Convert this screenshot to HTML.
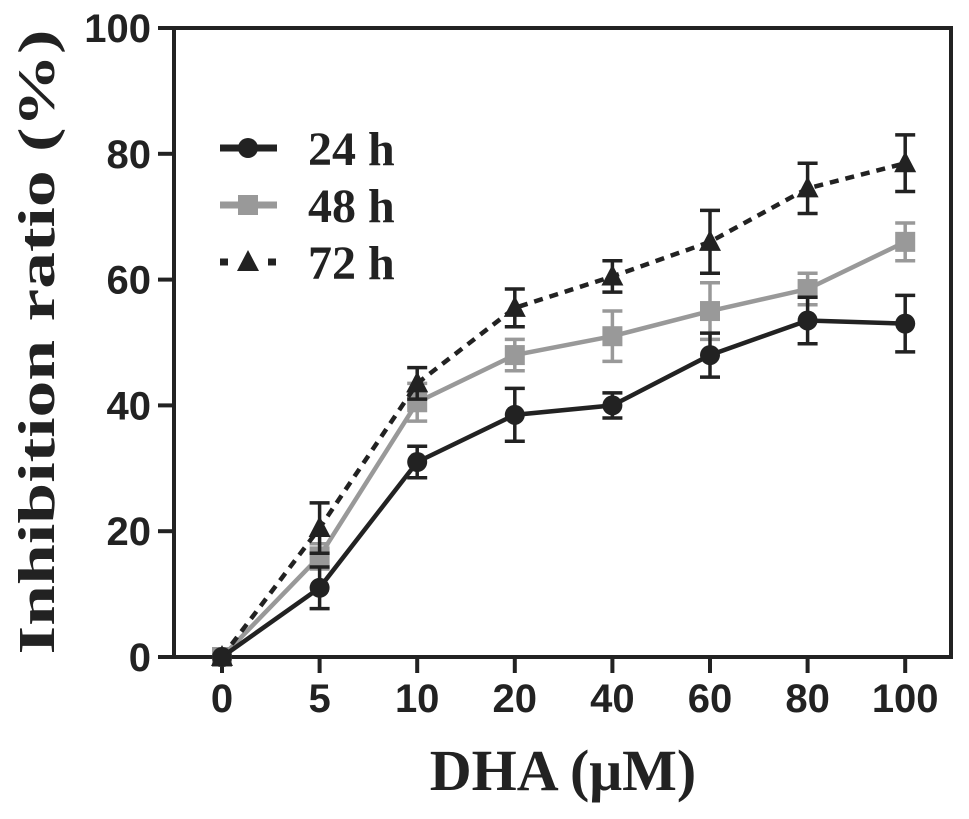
<!DOCTYPE html>
<html><head><meta charset="utf-8"><style>
body{margin:0;background:#fff}
</style></head><body>
<svg id="chart" width="969" height="814" xmlns="http://www.w3.org/2000/svg"></svg>
<script>
const categories=["0","5","10","20","40","60","80","100"];
const yTicks=[0,20,40,60,80,100];
const s24=[0,11,31,38.5,40,48,53.5,53];
const e24=[0,3.3,2.5,4.2,2,3.5,3.7,4.5];
const s48=[0,16,40.5,48,51,55,58.5,66];
const e48=[0,2,3,2.5,4,4.5,2.5,3];
const s72=[0,20.5,43.5,55.5,60.5,66,74.5,78.5];
const e72=[0,4,2.5,3,2.5,5,4,4.5];
const seriesNames=["24 h","48 h","72 h"];
const NS="http://www.w3.org/2000/svg";
const SANS='"Liberation Sans", Arial, sans-serif';
const SERIF='"Liberation Serif", "Times New Roman", serif';
const svg=document.getElementById('chart');
const L=174,R=951,T=28,B=657;
const x=i=>222+i*97.6;
const y=v=>B-(v/100)*(B-T);
function mk(t,a,p){const e=document.createElementNS(NS,t);for(const k in a)e.setAttribute(k,a[k]);(p||svg).appendChild(e);return e;}
let fr=mk('rect',{x:L,y:T,width:R-L,height:B-T,fill:'none',stroke:'#222','stroke-width':4});


yTicks.forEach(v=>{
 let l=mk('line',{x1:L-16,x2:L,y1:y(v),y2:y(v),stroke:'#222','stroke-width':4});
 
 
 let t=mk('text',{x:151,y:y(v)+14,'text-anchor':'end','font-size':40,'font-weight':'bold','font-family':SANS,fill:'#222'});t.textContent=v;
 
 
});
categories.forEach((c,i)=>{
 let l=mk('line',{x1:x(i),x2:x(i),y1:B,y2:B+16,stroke:'#222','stroke-width':4});
 
 
 let t=mk('text',{x:x(i),y:712,'text-anchor':'middle','font-size':40,'font-weight':'bold','font-family':SANS,fill:'#222'});t.textContent=c;
 
 
});
let xt=mk('text',{x:563,y:790,'text-anchor':'middle','font-size':58,'font-weight':'bold','font-family':SERIF,fill:'#222'});xt.textContent='DHA (μM)';


let yt=mk('text',{x:0,y:0,'text-anchor':'middle','font-size':52,'font-weight':'bold','font-family':SERIF,fill:'#222',textLength:625,lengthAdjust:'spacingAndGlyphs',transform:'translate(54,342) rotate(-90)'});yt.textContent='Inhibition ratio (%)';


const cfg=[{d:s24,e:e24,c:'#222',m:'circle',dash:''},{d:s48,e:e48,c:'#999',m:'square',dash:''},{d:s72,e:e72,c:'#222',m:'tri',dash:'9,7'}];
function marker(m,cx,cy,c,g){
 if(m==='circle')return mk('circle',{cx:cx,cy:cy,r:10,fill:c},g);
 if(m==='square')return mk('rect',{x:cx-10,y:cy-10,width:20,height:20,fill:c},g);
 return mk('polygon',{points:`${cx},${cy-12} ${cx+11},${cy+9} ${cx-11},${cy+9}`,fill:c},g);
}
[1,0,2].forEach(k=>{
 const s=cfg[k];
 const g=mk('g',{});
 
 
 mk('polyline',{points:s.d.map((v,i)=>x(i)+','+y(v)).join(' '),fill:'none',stroke:s.c,'stroke-width':4.5,'stroke-dasharray':s.dash},g);
 s.d.forEach((v,i)=>{
  if(s.e[i]>0){
   const eb=mk('path',{d:`M${x(i)},${y(v+s.e[i])}V${y(v-s.e[i])}M${x(i)-10},${y(v+s.e[i])}h20M${x(i)-10},${y(v-s.e[i])}h20`,stroke:s.c,'stroke-width':3.5,fill:'none'},g);
   
   
  }
  const p=marker(s.m,x(i),y(v),s.c,g);
  
  
 });
});
cfg.forEach((s,k)=>{
 const ly=148+k*57;
 const g=mk('g',{});
 
 
 mk('line',{x1:220,x2:277,y1:ly,y2:ly,stroke:s.c,'stroke-width':7,'stroke-dasharray':k===2?'8,40':''},g);
 marker(s.m,248,ly,s.c,g);
 const t=mk('text',{x:308,y:ly+17,'font-size':48,'font-weight':'bold','font-family':SERIF,fill:'#222'},g);t.textContent=seriesNames[k];
});
</script>
</body></html>
